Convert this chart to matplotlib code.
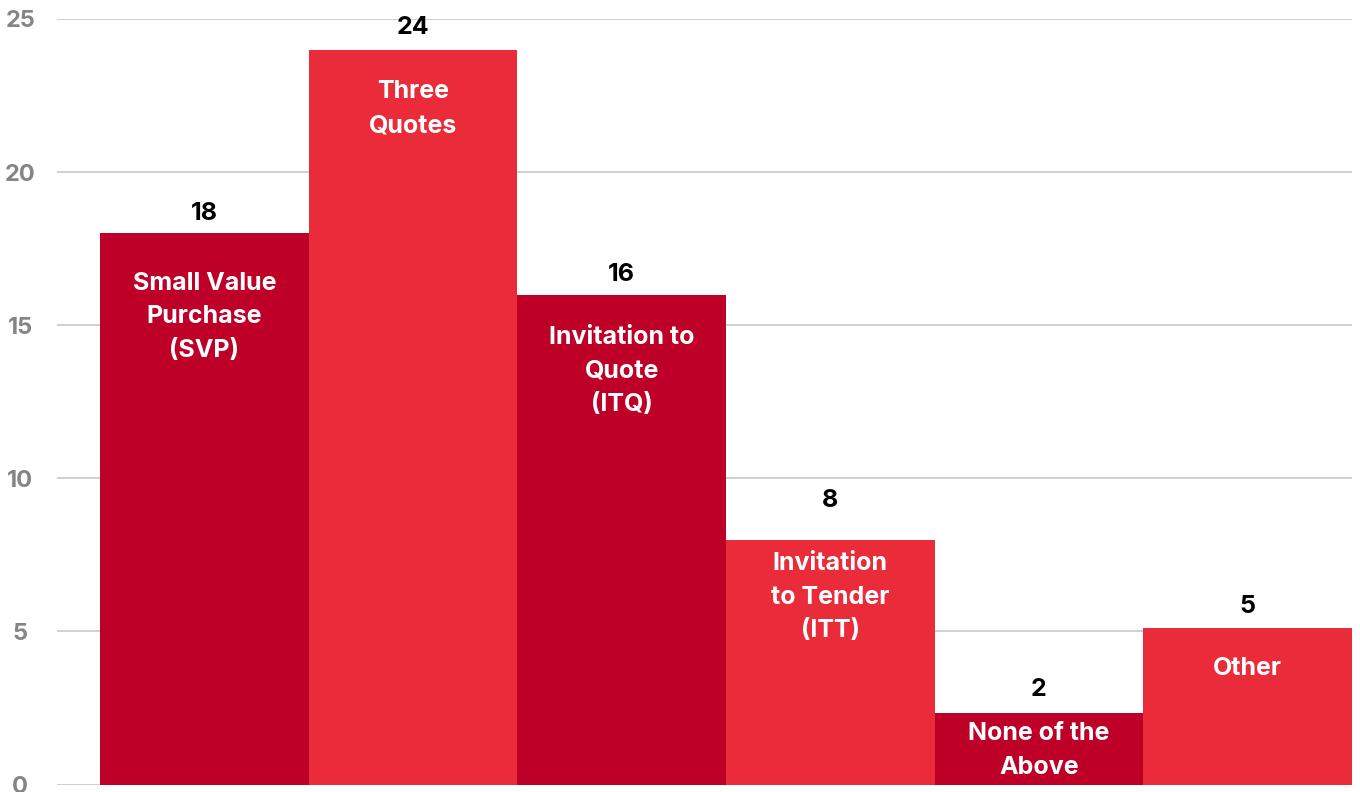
import matplotlib
matplotlib.use("Agg")
import matplotlib.pyplot as plt

# ---- data ----
categories = ["Small Value\nPurchase\n(SVP)", "Three\nQuotes", "Invitation to\nQuote\n(ITQ)",
              "Invitation\nto Tender\n(ITT)", "None of the\nAbove", "Other"]
values = [18, 24, 16, 8, 2.35, 5.1]
value_labels = ["18", "24", "16", "8", "2", "5"]
y_ticks = [0, 5, 10, 15, 20, 25]

# ---- style ----
bar_colors = ["#BE0028", "#EA2B3A", "#BE0028", "#EA2B3A", "#BE0028", "#EA2B3A"]
inner_first_line_px = [49, 42, 42, 23, 21, 40]   # px below bar top to first-line centre
value_label_px = [20, 22, 20, 39, 23, 22]        # px above bar top to label centre
line_px = 34.5

plt.rcParams['font.family'] = ['Inter', 'DejaVu Sans']

W, H = 1360, 792
fig = plt.figure(figsize=(W / 100, H / 100), dpi=100)
ax = fig.add_axes([57 / W, 7.5 / H, (1352 - 57) / W, (784.5 - 19) / H])

x = list(range(len(values)))
ax.bar(x, values, width=1.0, color=bar_colors, zorder=2, linewidth=0)

ax.set_xlim(-0.5 - 43 / 208.8, 5.5)
ax.set_ylim(0, 25)
ax.set_yticks(y_ticks)
ax.set_yticklabels([str(t) for t in y_ticks])
ax.set_xticks([])
ax.grid(axis='y', color='#C4C4C4', linewidth=1.1, zorder=0)
ax.set_axisbelow(True)
for s in ax.spines.values():
    s.set_visible(False)
ax.tick_params(axis='y', length=0, pad=26.5, labelsize=17, labelcolor='#858585')
for lab in ax.get_yticklabels():
    lab.set_horizontalalignment('center')
    lab.set_fontweight('bold')

for i, (v, cat, vl) in enumerate(zip(values, categories, value_labels)):
    ax.annotate(vl, xy=(i, v), xytext=(0, value_label_px[i]), textcoords='offset pixels',
                ha='center', va='center', fontsize=18, fontweight='bold', color='black')
    n = cat.count("\n") + 1
    off = inner_first_line_px[i] + (n - 1) * line_px / 2
    ax.annotate(cat, xy=(i, v), xytext=(0, -off), textcoords='offset pixels',
                ha='center', va='center', fontsize=18, fontweight='bold', color='white',
                linespacing=1.6, multialignment='center')

fig.savefig("out.png", dpi=100)
